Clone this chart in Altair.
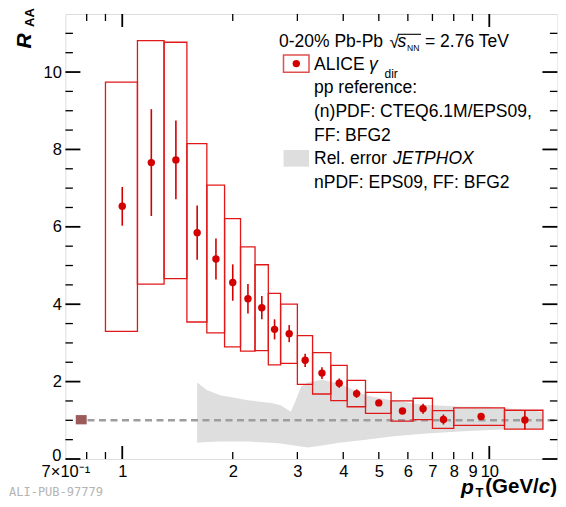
import altair as alt
import pandas as pd

# ---------------- data ----------------
pt_x = [1.0, 1.2, 1.4, 1.6, 1.8, 2.0, 2.2, 2.4, 2.6, 2.85, 3.15, 3.5, 3.9, 4.35, 5.0, 5.8, 6.6, 7.5, 9.5, 12.5]
pt_y = [6.53, 7.66, 7.73, 5.85, 5.17, 4.56, 4.14, 3.91, 3.35, 3.24, 2.55, 2.22, 1.96, 1.69, 1.45, 1.24, 1.30, 1.02, 1.10, 1.01]
stat = [0.50, 1.38, 1.02, 0.70, 0.53, 0.47, 0.38, 0.30, 0.26, 0.22, 0.17, 0.15, 0.12, 0.11, 0.08, 0.07, 0.13, 0.13, 0.08, 0.25]
bin_lo = [0.9, 1.1, 1.3, 1.5, 1.7, 1.9, 2.1, 2.3, 2.5, 2.7, 3.0, 3.3, 3.7, 4.1, 4.6, 5.4, 6.2, 7.0, 8.0, 11.0]
bin_hi = [1.1, 1.3, 1.5, 1.7, 1.9, 2.1, 2.3, 2.5, 2.7, 3.0, 3.3, 3.7, 4.1, 4.6, 5.4, 6.2, 7.0, 8.0, 11.0, 14.0]
sys_lo = [3.30, 4.52, 4.66, 3.54, 3.26, 2.90, 2.79, 2.80, 2.43, 2.47, 1.93, 1.68, 1.51, 1.35, 1.18, 0.98, 1.02, 0.79, 0.87, 0.77]
sys_hi = [9.74, 10.81, 10.77, 8.15, 7.08, 6.21, 5.48, 5.02, 4.28, 4.00, 3.19, 2.75, 2.42, 2.03, 1.72, 1.50, 1.57, 1.25, 1.32, 1.26]

band_x = [1.6, 1.7, 1.85, 2.2, 2.55, 2.7, 2.88, 2.97, 3.07, 3.2, 3.5, 3.9, 4.6, 5.4, 6.6, 8.5, 10.0, 11.5, 13.0, 14.0]
band_lo = [0.42, 0.44, 0.45, 0.45, 0.42, 0.40, 0.36, 0.34, 0.32, 0.30, 0.35, 0.42, 0.50, 0.58, 0.65, 0.72, 0.75, 0.77, 0.78, 0.79]
band_hi = [1.98, 1.78, 1.65, 1.52, 1.45, 1.39, 1.22, 1.52, 1.87, 1.98, 2.05, 1.95, 1.65, 1.52, 1.40, 1.35, 1.35, 1.30, 1.25, 1.22]

norm_x = [0.747, 0.80]
norm_y = [0.895, 1.135]

x_major = [1, 10]
x_minor = [0.8, 0.9, 2, 3, 4, 5, 6, 7, 8, 9]
x_labels = [0.7, 1, 2, 3, 4, 5, 6, 7, 8, 9, 10]
y_major = [0, 2, 4, 6, 8, 10]
y_minor = [0.5, 1, 1.5, 2.5, 3, 3.5, 4.5, 5, 5.5, 6.5, 7, 7.5, 8.5, 9, 9.5, 10.5, 11]

# ---------------- layout ----------------
W, H = 492, 445
OX, OY = 65.4, 14.0          # plot origin in page pixels
FONT = "Liberation Sans"
RED = "#d40000"
BOXRED = "#e01818"
GREY = "#dedede"

pts = pd.DataFrame({"x": pt_x, "y": pt_y,
                    "lo": [a - b for a, b in zip(pt_y, stat)],
                    "hi": [a + b for a, b in zip(pt_y, stat)]})
boxes = pd.DataFrame({"x": bin_lo, "x2": bin_hi, "y": sys_lo, "y2": sys_hi})
band = pd.DataFrame({"x": band_x, "y": band_lo, "y2": band_hi})
norm = pd.DataFrame({"x": [norm_x[0]], "x2": [norm_x[1]], "y": [norm_y[0]], "y2": [norm_y[1]]})
one = pd.DataFrame({"a": [0]})

xs = alt.Scale(type="log", domain=[0.7, 15.33], nice=False)
ys = alt.Scale(domain=[0, 11.5], nice=False, zero=False)
XAX = alt.Axis(values=x_labels, ticks=False, domain=False, grid=False, title=None,
               labelFont=FONT, labelFontSize=16.5, labelColor="black", labelPadding=4,
               labelOverlap=False, labelFlush=False, labelBound=False,
               labelExpr="datum.value < 0.75 ? '7×10⁻¹' : format(datum.value, 'd')")
YAX = alt.Axis(values=y_major, ticks=False, domain=False, grid=False, title=None,
               labelFont=FONT, labelFontSize=16.5, labelColor="black", labelPadding=4,
               labelOverlap=False, labelFlush=False, labelBound=False,
               labelExpr="datum.value == 0 ? '' : format(datum.value, 'd')")


def X(f="x"):
    return alt.X(f"{f}:Q", scale=xs, axis=XAX)


def Y(f="y"):
    return alt.Y(f"{f}:Q", scale=ys, axis=YAX)


layers = []

# JETPHOX relative error band
layers.append(alt.Chart(band).mark_area(color=GREY, opacity=1).encode(
    x=X(), y=Y(), y2="y2:Q"))

# dashed unity line
layers.append(alt.Chart(one).mark_rule(color="#9d9d9d", strokeWidth=2.6, strokeDash=[7, 4.5]).encode(
    x=alt.value(87.5 - OX), x2=alt.value(W - 2), y=alt.datum(1, scale=ys, axis=YAX)))

# normalisation box
layers.append(alt.Chart(norm).mark_rect(color="#9b5b5b").encode(
    x=X(), x2="x2:Q", y=Y(), y2="y2:Q"))

# systematic boxes
layers.append(alt.Chart(boxes).mark_rect(fillOpacity=0, stroke=BOXRED, strokeWidth=1.3).encode(
    x=X(), x2="x2:Q", y=Y(), y2="y2:Q"))

# statistical error bars
layers.append(alt.Chart(pts).mark_rule(color=RED, strokeWidth=1.6).encode(
    x=X(), y=Y("lo"), y2="hi:Q"))

# points
layers.append(alt.Chart(pts).mark_circle(size=55, color=RED, opacity=1).encode(
    x=X(), y=Y()))

# inward ticks (ROOT style) on all four sides
xt_maj = pd.DataFrame({"x": x_major})
xt_min = pd.DataFrame({"x": x_minor})
yt_maj = pd.DataFrame({"y": y_major})
yt_min = pd.DataFrame({"y": y_minor})
for df, ln, sw in [(xt_maj, 13, 1.8), (xt_min, 7, 1.3)]:
    layers.append(alt.Chart(df).mark_rule(color="black", strokeWidth=sw).encode(
        x=X(), y=alt.value(H), y2=alt.value(H - ln)))
    layers.append(alt.Chart(df).mark_rule(color="black", strokeWidth=sw).encode(
        x=X(), y=alt.value(0), y2=alt.value(ln)))
for df, ln, sw in [(yt_maj, 15, 1.8), (yt_min, 7.5, 1.3)]:
    layers.append(alt.Chart(df).mark_rule(color="black", strokeWidth=sw).encode(
        y=Y(), x=alt.value(0), x2=alt.value(ln)))
    layers.append(alt.Chart(df).mark_rule(color="black", strokeWidth=sw).encode(
        y=Y(), x=alt.value(W), x2=alt.value(W - ln)))


def txt(s, x, y, size=17.5, weight="normal", style="normal", align="left",
        baseline="alphabetic", angle=0, color="black", font=FONT):
    return alt.Chart(one).mark_text(text=s, fontSize=size, fontWeight=weight, fontStyle=style,
                                    align=align, baseline=baseline, angle=angle,
                                    color=color, font=font).encode(
        x=alt.value(x - OX), y=alt.value(y - OY))


def prule(x1, x2, y, color="black", sw=1.2):
    return alt.Chart(one).mark_rule(color=color, strokeWidth=sw).encode(
        x=alt.value(x1 - OX), x2=alt.value(x2 - OX), y=alt.value(y - OY))


# y label "0" sits just above the frame corner, as in the reference
layers.append(txt("0", 61.5, 456, size=16.5, align="right", baseline="middle"))

# header line
layers.append(txt("0-20% Pb-Pb", 279, 46.7))
layers.append(txt("√", 389.5, 47.5))
layers.append(txt("s", 397.5, 46.7, style="italic"))
layers.append(txt("NN", 407, 50.5, size=8.5))
layers.append(prule(398, 421, 34.3, sw=1.1))
layers.append(txt("= 2.76 TeV", 425, 46.7))

# legend entry 1
layers.append(alt.Chart(one).mark_rect(fillOpacity=0, stroke="#e05050", strokeWidth=1.5).encode(
    x=alt.value(283.5 - OX), x2=alt.value(309 - OX), y=alt.value(55 - OY), y2=alt.value(72.3 - OY)))
layers.append(alt.Chart(one).mark_circle(size=55, color=RED, opacity=1).encode(
    x=alt.value(296.3 - OX), y=alt.value(63.6 - OY)))
layers.append(txt("ALICE", 314, 70))
layers.append(txt("γ", 369, 70, style="italic"))
layers.append(txt("dir", 384.5, 78, size=12))
layers.append(txt("pp reference:", 314, 93.3))
layers.append(txt("(n)PDF: CTEQ6.1M/EPS09,", 314, 117))
layers.append(txt("FF: BFG2", 314, 140.7))

# legend entry 2
layers.append(alt.Chart(one).mark_rect(color=GREY).encode(
    x=alt.value(283.5 - OX), x2=alt.value(309 - OX), y=alt.value(150 - OY), y2=alt.value(166.7 - OY)))
layers.append(txt("Rel. error", 314, 164))
layers.append(txt("JETPHOX", 393, 164, style="italic"))
layers.append(txt("nPDF: EPS09, FF: BFG2", 314, 188.3))

# axis titles
layers.append(txt("R", 30.5, 48.5, size=21, weight="bold", style="italic", angle=270))
layers.append(txt("AA", 34, 27, size=13, weight="bold", angle=270))
layers.append(txt("p", 461, 493.5, size=21, weight="bold", style="italic"))
layers.append(txt("T", 475.5, 497, size=13, weight="bold"))
layers.append(txt(")", 557, 493, size=20.5, weight="bold", align="right"))
layers.append(txt("c", 550.2, 493, size=20.5, weight="bold", style="italic", align="right"))
layers.append(txt("(GeV/", 538.8, 493, size=20.5, weight="bold", align="right"))

# watermark
layers.append(txt("ALI-PUB-97779", 9, 496, size=12, color="#b4b4b4", font="DejaVu Sans Mono"))

chart = alt.layer(*layers).properties(
    width=W, height=H,
    autosize=alt.AutoSizeParams(type="none"),
    padding={"left": OX - 8, "top": OY - 8, "right": 550 - (OX - 8) - W, "bottom": 491 - (OY - 8) - H},
).configure_view(stroke="black", strokeWidth=1.6).configure(background="white")

chart.save("out.html", embed_options={"renderer": "svg", "actions": False})
